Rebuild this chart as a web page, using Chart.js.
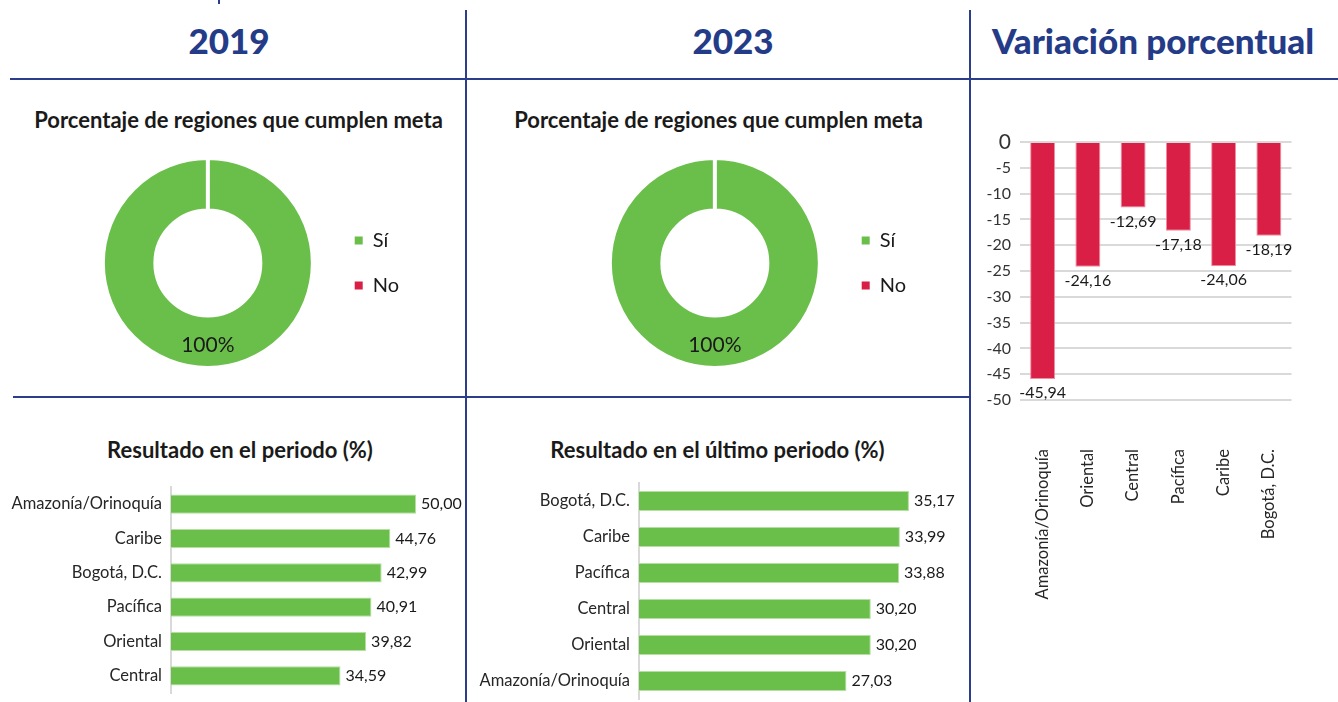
<!DOCTYPE html>
<html>
<head>
<meta charset="utf-8">
<script src="https://cdn.jsdelivr.net/npm/chart.js@4.4.1/dist/chart.umd.min.js"></script>
<style>
  body { margin: 0; width: 1338px; height: 702px; background: #fff; position: relative; overflow: hidden; font-family: Lato, sans-serif; }
  .line { position: absolute; background: #2b3d8b; }
  .head { position: absolute; font-weight: 900; font-size: 35px; line-height: 35px; color: #243b87; text-align: center; white-space: nowrap; }
  .title { position: absolute; font-weight: 700; font-size: 22px; line-height: 22px; color: #1a1a1a; text-align: center; white-space: nowrap; }
  canvas { position: absolute; }
</style>
</head>
<body>
<div class="line" style="left:218px;top:0;width:2px;height:4px"></div>
<div class="line" style="left:465px;top:10px;width:2px;height:692px"></div>
<div class="line" style="left:969px;top:10px;width:2px;height:692px"></div>
<div class="line" style="left:10px;top:78px;width:1328px;height:2px"></div>
<div class="line" style="left:13px;top:396px;width:957px;height:2px"></div>

<div class="head" style="left:0;top:23px;width:458px">2019</div>
<div class="head" style="left:466px;top:23px;width:534px">2023</div>
<div class="head" style="left:968px;top:23px;width:370px">Variación porcentual</div>

<div class="title" style="left:0;top:109px;width:477px">Porcentaje de regiones que cumplen meta</div>
<div class="title" style="left:466px;top:109px;width:505px">Porcentaje de regiones que cumplen meta</div>
<div class="title" style="left:0;top:439px;width:480px">Resultado en el periodo (%)</div>
<div class="title" style="left:466px;top:439px;width:503px">Resultado en el último periodo (%)</div>

<canvas id="donut2019" width="323" height="226" style="left:86px;top:150px"></canvas>
<canvas id="donut2023" width="323" height="226" style="left:593px;top:150px"></canvas>
<canvas id="bars2019" width="470" height="256" style="left:0;top:462px"></canvas>
<canvas id="bars2023" width="495" height="266" style="left:470px;top:458px"></canvas>
<canvas id="variacion" width="363" height="510" style="left:975px;top:100px"></canvas>

<script>
const GREEN = '#6abf4b';
const RED = '#da1f46';

const donutLabels = ['Sí', 'No'];
const donut2019 = [100, 0];
const donut2023 = [100, 0];

const regions2019 = ['Amazonía/Orinoquía', 'Caribe', 'Bogotá, D.C.', 'Pacífica', 'Oriental', 'Central'];
const result2019 = [50.00, 44.76, 42.99, 40.91, 39.82, 34.59];

const regions2023 = ['Bogotá, D.C.', 'Caribe', 'Pacífica', 'Central', 'Oriental', 'Amazonía/Orinoquía'];
const result2023 = [35.17, 33.99, 33.88, 30.20, 30.20, 27.03];

const varRegions = ['Amazonía/Orinoquía', 'Oriental', 'Central', 'Pacífica', 'Caribe', 'Bogotá, D.C.'];
const variation = [-45.94, -24.16, -12.69, -17.18, -24.06, -18.19];

Chart.defaults.font.family = 'Lato, sans-serif';
Chart.defaults.color = '#262626';

const fmt = v => v.toFixed(2).replace('.', ',');

// draws value labels next to bars / inside the donut ring
const valueLabels = {
  id: 'valueLabels',
  afterDatasetsDraw(chart, args, opts) {
    const ctx = chart.ctx;
    const data = chart.data.datasets[0].data;
    const total = data.reduce((a, b) => a + b, 0);
    ctx.save();
    ctx.font = opts.font;
    ctx.fillStyle = opts.color;
    chart.getDatasetMeta(0).data.forEach((el, i) => {
      const v = data[i];
      if (opts.mode === 'arc') {
        if (!v) return;
        const p = el.tooltipPosition();
        ctx.textAlign = 'center';
        ctx.textBaseline = 'middle';
        ctx.fillText(Math.round(v / total * 100) + '%', p.x, p.y + opts.offset);
      } else if (opts.mode === 'right') {
        ctx.textAlign = 'left';
        ctx.textBaseline = 'middle';
        ctx.fillText(fmt(v), el.x + opts.offset, el.y);
      } else {
        ctx.textAlign = 'center';
        ctx.textBaseline = 'top';
        ctx.fillText(fmt(v), el.x, el.y + opts.offset);
      }
    });
    ctx.restore();
  }
};

function makeDonut(id, values) {
  new Chart(document.getElementById(id), {
    type: 'doughnut',
    data: {
      labels: donutLabels,
      datasets: [{ data: values, backgroundColor: [GREEN, RED], borderColor: '#fff', borderWidth: 4, hoverBorderWidth: 4 }]
    },
    options: {
      responsive: false,
      animation: false,
      cutout: '50%',
      layout: { padding: { top: 6, bottom: 6 } },
      plugins: {
        legend: {
          position: 'right',
          labels: {
            boxWidth: 8, boxHeight: 8, padding: 25, color: '#1a1a1a', font: { size: 20 },
            generateLabels: chart => Chart.overrides.doughnut.plugins.legend.labels.generateLabels(chart)
              .map(l => Object.assign(l, { lineWidth: 0, strokeStyle: l.fillStyle }))
          }
        },
        tooltip: { enabled: false },
        valueLabels: { mode: 'arc', offset: 3, font: '21px Lato, sans-serif', color: '#1a1a1a' }
      }
    },
    plugins: [valueLabels]
  });
}

function makeHBar(id, labels, values, max, axisWidth, padding) {
  new Chart(document.getElementById(id), {
    type: 'bar',
    data: {
      labels: labels,
      datasets: [{ data: values, backgroundColor: GREEN, borderColor: '#b4dfa0', borderWidth: 1,
        categoryPercentage: 0.8, barPercentage: 0.7 }]
    },
    options: {
      indexAxis: 'y',
      responsive: false,
      animation: false,
      layout: { padding: padding },
      scales: {
        x: { display: false, min: 0, max: max },
        y: {
          grid: { display: false, drawTicks: false },
          border: { display: true, color: '#d9d9d9', width: 2 },
          ticks: { padding: 9, color: '#262626', font: { size: 16.5 } },
          afterFit: s => { s.width = axisWidth; }
        }
      },
      plugins: {
        legend: { display: false },
        tooltip: { enabled: false },
        valueLabels: { mode: 'right', offset: 5, font: '16px Lato, sans-serif', color: '#1a1a1a' }
      }
    },
    plugins: [valueLabels]
  });
}

makeDonut('donut2019', donut2019);
makeDonut('donut2023', donut2023);
makeHBar('bars2019', regions2019, result2019, 50, 171, { left: 0, right: 54, top: 25, bottom: 25 });
makeHBar('bars2023', regions2023, result2023, 40, 169, { left: 0, right: 19, top: 25, bottom: 25 });

new Chart(document.getElementById('variacion'), {
  type: 'bar',
  data: {
    labels: varRegions,
    datasets: [{ data: variation, backgroundColor: RED, borderColor: '#ee8fa2', borderWidth: 1,
      categoryPercentage: 0.8, barPercentage: 0.69 }]
  },
  options: {
    responsive: false,
    animation: false,
    layout: { padding: { left: 0, right: 4, top: 42, bottom: 0 } },
    scales: {
      x: {
        grid: { display: false, drawTicks: false },
        border: { display: false },
        ticks: { maxRotation: 90, minRotation: 90, autoSkip: false, padding: 49, color: '#262626', font: { size: 16.5 } },
        afterFit: s => { s.height = 210; }
      },
      y: {
        min: -50, max: 0,
        grid: { color: '#d9d9d9', lineWidth: 2, drawTicks: false },
        border: { display: false },
        ticks: {
          stepSize: 5, autoSkip: false, padding: 9, color: '#333',
          font: c => ({ size: c.tick && c.tick.value === 0 ? 21 : 16 }),
          callback: v => String(v)
        },
        afterFit: s => { s.width = 45; }
      }
    },
    plugins: {
      legend: { display: false },
      tooltip: { enabled: false },
      valueLabels: { mode: 'below', offset: 6, font: '16px Lato, sans-serif', color: '#1a1a1a' }
    }
  },
  plugins: [valueLabels]
});
</script>
</body>
</html>
